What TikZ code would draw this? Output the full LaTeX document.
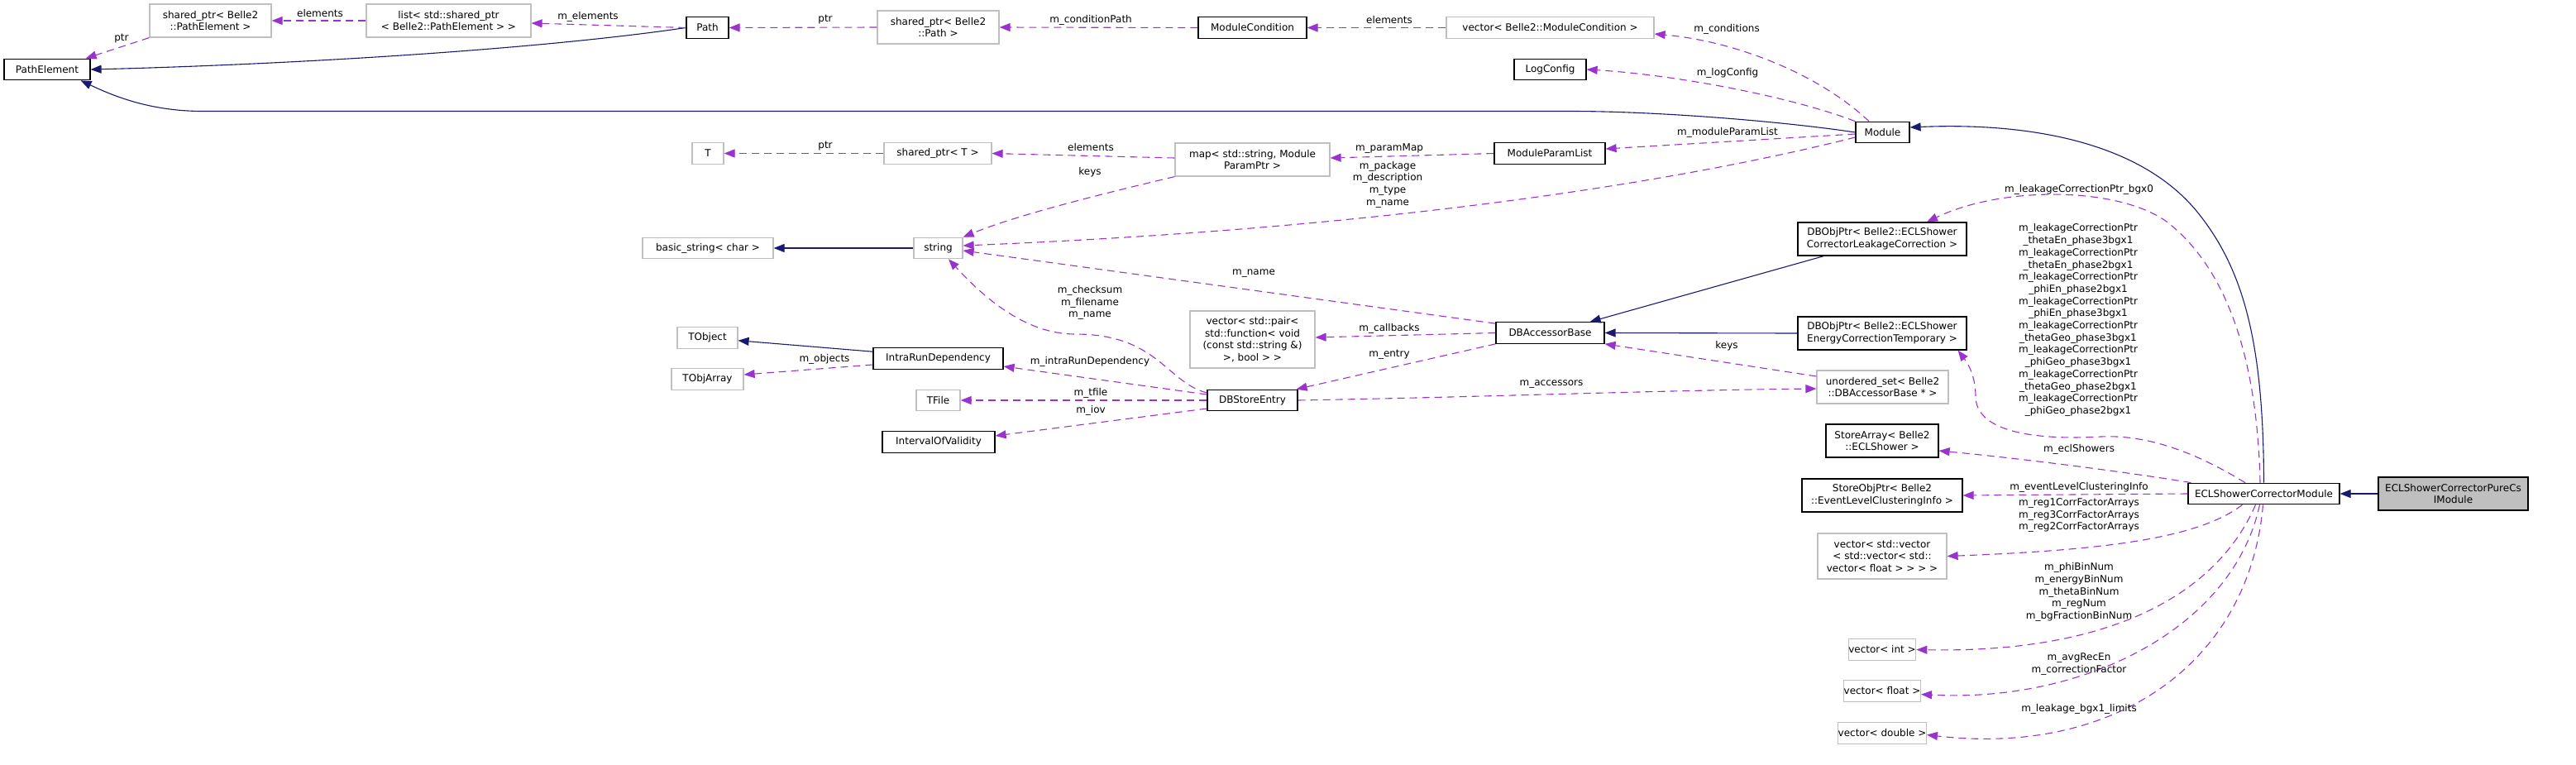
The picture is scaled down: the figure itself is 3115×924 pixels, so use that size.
\documentclass[tikz,border=0pt]{standalone}
\usepackage{fontspec}
\setmainfont{DejaVu Sans}
\usetikzlibrary{arrows.meta}
\definecolor{navyline}{HTML}{191970}
\definecolor{orchidline}{HTML}{9A32CD}
\definecolor{boxgray}{HTML}{BFBFBF}
\newcommand\dxfont{\fontsize{12}{14.7}\selectfont}
\tikzset{
	cls/.style={draw=black, line width=1.2pt, fill=white, inner sep=0pt, align=center, font=\dxfont},
	ext/.style={cls, draw=boxgray},
	root/.style={cls, fill=boxgray},
	one/.style={minimum height=25.5},
	two/.style={minimum height=40},
	three/.style={minimum height=55},
	four/.style={minimum height=69},
	inh/.style={draw=navyline, line width=1.1pt, -{Triangle[length=13pt,width=10pt]}},
	use/.style={draw=orchidline, line width=1.1pt, dash pattern=on 9pt off 6pt, -{Triangle[length=13pt,width=10pt]}},
	lbl/.style={inner sep=0pt, align=center, font=\dxfont},
}

\begin{document}
\begin{tikzpicture}[x=1pt,y=-1pt]
			%%%%% START %%%%%
			\useasboundingbox (0,0) rectangle (3115,924);
			
			% classes
			\node[cls, one, minimum width=104] (pathelem) at (57,84) {PathElement};
			\node[ext, two, minimum width=147] (sptrpe) at (254.5,25) {shared\_ptr< Belle2\\::PathElement >};
			\node[ext, two, minimum width=199] (list) at (542.5,25) {list< std::shared\_ptr\\< Belle2::PathElement > >};
			\node[cls, one, minimum width=51] (path) at (855.5,33.5) {Path};
			\node[ext, two, minimum width=147] (sptrpath) at (1134.5,33) {shared\_ptr< Belle2\\::Path >};
			\node[cls, one, minimum width=131] (modcond) at (1514.5,33.5) {ModuleCondition};
			\node[ext, one, minimum width=251] (vecmodcond) at (1874.5,33.5) {vector< Belle2::ModuleCondition >};
			\node[cls, one, minimum width=87] (logconfig) at (1874.5,84) {LogConfig};
			\node[cls, one, minimum width=65] (module) at (2276.5,160) {Module};
			
			\node[ext, one, minimum width=38] (tnode) at (856,185.5) {T};
			\node[ext, one, minimum width=130] (sptrt) at (1134,185.5) {shared\_ptr< T >};
			\node[ext, two, minimum width=187] (parammap) at (1514.5,193) {map< std::string, Module\\ParamPtr >};
			\node[cls, one, minimum width=134] (mplist) at (1874,185.5) {ModuleParamList};
			
			\node[ext, one, minimum width=158] (basicstr) at (856,300) {basic\_string< char >};
			\node[ext, one, minimum width=59] (stringnode) at (1134.5,300) {string};
			
			\node[ext, one, minimum width=73] (tobject) at (855.5,408.5) {TObject};
			\node[ext, one, minimum width=87] (tobjarray) at (855.5,458.5) {TObjArray};
			\node[cls, one, minimum width=157] (intrarun) at (1134.5,433.5) {IntraRunDependency};
			\node[ext, one, minimum width=53] (tfile) at (1134.5,484) {TFile};
			\node[cls, one, minimum width=136] (iov) at (1135,534.5) {IntervalOfValidity};
			\node[cls, one, minimum width=109] (dbstore) at (1514.5,484) {DBStoreEntry};
			\node[ext, four, minimum width=151] (callbacks) at (1514.5,410.5) {vector< std::pair<\\std::function< void\\(const std::string \&)\\>, bool > >};
			\node[cls, one, minimum width=131] (dbacc) at (1874.5,402.5) {DBAccessorBase};
			
			\node[cls, two, minimum width=204] (dbleak) at (2276,289) {DBObjPtr< Belle2::ECLShower\\CorrectorLeakageCorrection >};
			\node[cls, two, minimum width=204] (dbenergy) at (2276,403) {DBObjPtr< Belle2::ECLShower\\EnergyCorrectionTemporary >};
			\node[ext, two, minimum width=159] (unordset) at (2276.5,468) {unordered\_set< Belle2\\::DBAccessorBase * >};
			\node[cls, two, minimum width=136] (storearr) at (2276,533) {StoreArray< Belle2\\::ECLShower >};
			\node[cls, two, minimum width=194] (storeobj) at (2276,599) {StoreObjPtr< Belle2\\::EventLevelClusteringInfo >};
			\node[ext, three, minimum width=156] (vecvec) at (2276,672.5) {vector< std::vector\\< std::vector< std::\\vector< float > > > >};
			\node[ext, one, minimum width=68] (vecint) at (2276,785.5) {vector< int >};
			\node[ext, one, minimum width=80] (vecfloat) at (2276,835.5) {vector< float >};
			\node[ext, one, minimum width=94] (vecdouble) at (2276,886.5) {vector< double >};
			
			\node[cls, one, minimum width=183] (eclscm) at (2737.5,597) {ECLShowerCorrectorModule};
			\node[root, two, minimum width=181] (purecsi) at (2966.5,597) {ECLShowerCorrectorPureCs\\IModule};
			
			% inheritance
			\draw[inh] (path.west) .. controls (650,60) and (350,78) .. (pathelem.east);
			\draw[inh] (module.west) .. controls (2150,146) and (2000,134.5) .. (1900,134.5) -- (245,134.5) .. controls (180,134.5) and (135,115) .. ([xshift=-12pt]pathelem.south east);
			\draw[inh] (eclscm.north) .. controls (2737,420) and (2715,330) .. (2660,260) .. controls (2590,170) and (2450,148) .. ([yshift=6pt]module.east);
			\draw[inh] (stringnode.west) -- (basicstr.east);
			\draw[inh] (intrarun.174) -- (tobject.-5);
			\draw[inh] ([xshift=32pt]dbleak.south west) -- ([xshift=-18pt]dbacc.north east);
			\draw[inh] (dbenergy.west) -- (dbacc.east);
			\draw[inh] (purecsi.west) -- (eclscm.east);
			
			% members
			\draw[use] (sptrpe.south west) -- ([xshift=-6pt]pathelem.north east);
			\draw[use] (list.west) -- (sptrpe.east);
			\draw[use] (path.west) -- ([yshift=-3pt]list.east);
			\draw[use] (sptrpath.west) -- (path.east);
			\draw[use] (modcond.west) -- (sptrpath.east);
			\draw[use] (vecmodcond.west) -- (modcond.east);
			\draw[use] ([xshift=-16.5pt]module.north) .. controls (2200,90) and (2100,50) .. ([yshift=-7.5pt]vecmodcond.east);
			\draw[use] (module.north west) .. controls (2160,115) and (2020,90) .. (logconfig.east);
			\draw[use] ([yshift=-2pt]module.west) -- ([yshift=5.5pt]mplist.east);
			\draw[use] ([yshift=-6pt]module.west) .. controls (2050,215) and (1700,275) .. ([yshift=3pt]stringnode.east);
			\draw[use] (mplist.west) -- ([yshift=2pt]parammap.east);
			\draw[use] ([yshift=2pt]parammap.west) -- (sptrt.east);
			\draw[use] (sptrt.west) -- (tnode.east);
			\draw[use] (parammap.south west) .. controls (1330,235) and (1230,260) .. (stringnode.north east);
			\draw[use] ([yshift=-2pt]dbacc.north west) -- ([yshift=-3pt]stringnode.east);
			\draw[use] ([yshift=9pt]dbstore.west) .. controls (1410,462) and (1400,404) .. (1300,404) .. controls (1240,404) and (1190,360) .. ([xshift=12.5pt]stringnode.south);
			\draw[use] ([yshift=-7.5pt]intrarun.west) -- ([yshift=5.5pt]tobjarray.east);
			\draw[use] (dbacc.west) -- ([yshift=2.5pt]callbacks.east);
			\draw[use] (dbacc.south west) -- ([xshift=-2pt]dbstore.north east);
			\draw[use] ([yshift=7pt]dbstore.west) -- ([yshift=-9.5pt]intrarun.east);
			\draw[use] (dbstore.west) -- (tfile.east);
			\draw[use] ([yshift=-10pt]dbstore.west) -- ([yshift=7.5pt]iov.east);
			\draw[use] (dbstore.east) .. controls (1800,480) and (2000,472) .. ([yshift=-2pt]unordset.west);
			\draw[use] ([yshift=13pt]unordset.west) -- (dbacc.south east);
			\draw[use] ([xshift=-4.5pt]eclscm.north) .. controls (2730,450) and (2700,330) .. (2620,268) .. controls (2560,225) and (2420,225) .. ([xshift=54pt]dbleak.north);
			\draw[use] ([xshift=-22.5pt]eclscm.north) .. controls (2660,550) and (2600,525) .. (2540,528) .. controls (2470,532) and (2390,525) .. (2389,480) .. controls (2389,455) and (2380,440) .. ([xshift=-11pt]dbenergy.south east);
			\draw[use] ([xshift=4pt]eclscm.north west) .. controls (2580,572) and (2450,555) .. ([yshift=-12pt]storearr.east);
			\draw[use] (eclscm.west) -- (storeobj.east);
			\draw[use] ([xshift=-26pt]eclscm.south) .. controls (2660,650) and (2550,665) .. (vecvec.east);
			\draw[use] ([xshift=-10pt]eclscm.south) .. controls (2680,720) and (2550,790) .. (vecint.east);
			\draw[use] ([xshift=-5pt]eclscm.south) .. controls (2700,760) and (2520,850) .. ([yshift=-4pt]vecfloat.east);
			\draw[use] ([xshift=-1pt]eclscm.south) .. controls (2720,800) and (2560,915) .. ([yshift=-2pt]vecdouble.east);
			
			% member names
			\node[lbl] (lptra) at (147,47) {ptr};
			\node[lbl] (lelema) at (387,16) {elements};
			\node[lbl] (lelemb) at (711,20) {m\_elements};
			\node[lbl] (lptrb) at (998,24) {ptr};
			\node[lbl] (lcondpath) at (1319,24) {m\_conditionPath};
			\node[lbl] (lelemc) at (1680,24) {elements};
			\node[lbl] (lconds) at (2088,35) {m\_conditions};
			\node[lbl] (llog) at (2089,88) {m\_logConfig};
			\node[lbl] (lmpl) at (2089,160) {m\_moduleParamList};
			\node[lbl] (lpkg) at (1678,223) {m\_package\\m\_description\\m\_type\\m\_name};
			\node[lbl] (lpmap) at (1680,180) {m\_paramMap};
			\node[lbl] (lelemd) at (1319,178) {elements};
			\node[lbl] (lptrc) at (998,177) {ptr};
			\node[lbl] (lkeysa) at (1318,208) {keys};
			\node[lbl] (lname) at (1516,331) {m\_name};
			\node[lbl] (lcheck) at (1318,366) {m\_checksum\\m\_filename\\m\_name};
			\node[lbl] (lobjs) at (997,434) {m\_objects};
			\node[lbl] (lcall) at (1680,397) {m\_callbacks};
			\node[lbl] (lentry) at (1680,429) {m\_entry};
			\node[lbl] (lintra) at (1318,437) {m\_intraRunDependency};
			\node[lbl] (ltfile) at (1319,475) {m\_tfile};
			\node[lbl] (liov) at (1319,496) {m\_iov};
			\node[lbl] (lacc) at (1876,465) {m\_accessors};
			\node[lbl] (lkeysb) at (2088,418) {keys};
			\node[lbl] (lbgx) at (2514,229) {m\_leakageCorrectionPtr\_bgx0};
			\node[lbl] (lleak) at (2513,387) {m\_leakageCorrectionPtr\\\_thetaEn\_phase3bgx1\\m\_leakageCorrectionPtr\\\_thetaEn\_phase2bgx1\\m\_leakageCorrectionPtr\\\_phiEn\_phase2bgx1\\m\_leakageCorrectionPtr\\\_phiEn\_phase3bgx1\\m\_leakageCorrectionPtr\\\_thetaGeo\_phase3bgx1\\m\_leakageCorrectionPtr\\\_phiGeo\_phase3bgx1\\m\_leakageCorrectionPtr\\\_thetaGeo\_phase2bgx1\\m\_leakageCorrectionPtr\\\_phiGeo\_phase2bgx1};
			\node[lbl] (lshow) at (2514,543) {m\_eclShowers};
			\node[lbl] (lclus) at (2514,589) {m\_eventLevelClusteringInfo};
			\node[lbl] (lreg) at (2514,623) {m\_reg1CorrFactorArrays\\m\_reg3CorrFactorArrays\\m\_reg2CorrFactorArrays};
			\node[lbl] (lbins) at (2514,716) {m\_phiBinNum\\m\_energyBinNum\\m\_thetaBinNum\\m\_regNum\\m\_bgFractionBinNum};
			\node[lbl] (lavg) at (2514,803) {m\_avgRecEn\\m\_correctionFactor};
			\node[lbl] (llim) at (2514,857) {m\_leakage\_bgx1\_limits};
			
			%%%%% END %%%%%
\end{tikzpicture}
\end{document}
